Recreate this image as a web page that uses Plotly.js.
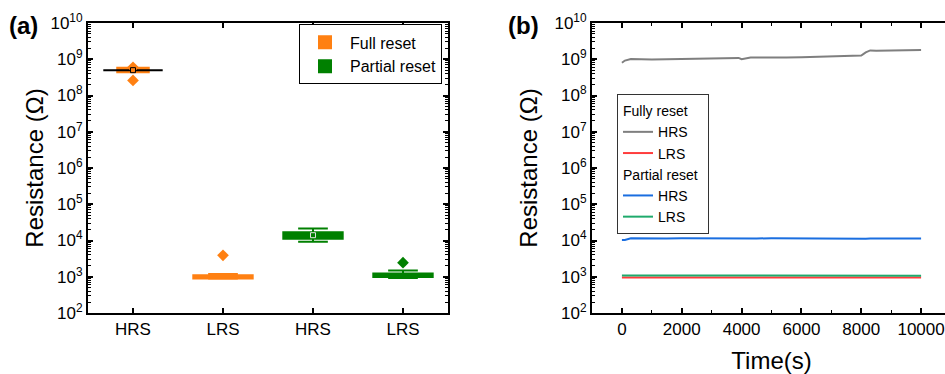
<!DOCTYPE html>
<html>
<head>
<meta charset="utf-8">
<script src="https://cdn.plot.ly/plotly-3.0.1.min.js"></script>
<style>
html,body{margin:0;padding:0;overflow:hidden;background:#fff;}
#chart{width:960px;height:374px;}
</style>
</head>
<body>
<div id="chart"></div>
<script>
// ---------- Panel (a) data: box statistics ----------
const categories = ["HRS", "LRS", "HRS", "LRS"];
const catPos = [0, 1, 2, 3];

// Full reset (positions 0,1)
const fullQ1 = [4.4e8, 0.9e3];
const fullMedian = [5.0e8, 1.0e3];
const fullQ3 = [5.8e8, 1.1e3];
const fullLower = [4.4e8, 0.88e3];
const fullUpper = [5.8e8, 1.2e3];
const fullOutX = [0, 0, 1];
const fullOutY = [2.6e8, 6.0e8, 3.9e3];
const fullHrsMean = [5.0e8];

// Partial reset (positions 2,3)
const partQ1 = [1.12e4, 0.98e3];
const partMedian = [1.32e4, 1.1e3];
const partQ3 = [1.7e4, 1.22e3];
const partLower = [9.3e3, 0.92e3];
const partUpper = [2.16e4, 1.48e3];
const partOutX = [3];
const partOutY = [2.45e3];
const partHrsMean = [1.4e4];

// ---------- Panel (b) data: retention ----------
const timeS = [0, 100, 300, 500, 1000, 1500, 2000, 2500, 3000, 3500, 3900, 4000, 4100, 4300, 4500, 5000, 5500, 6000, 6500, 7000, 7500, 7900, 8000, 8150, 8300, 8500, 9000, 9500, 10000];
const fullHRS = [8.0e8, 9.2e8, 1.02e9, 1.0e9, 0.99e9, 1.0e9, 1.02e9, 1.04e9, 1.05e9, 1.07e9, 1.09e9, 1.0e9, 1.05e9, 1.12e9, 1.12e9, 1.1e9, 1.12e9, 1.13e9, 1.15e9, 1.16e9, 1.2e9, 1.22e9, 1.26e9, 1.55e9, 1.75e9, 1.72e9, 1.72e9, 1.76e9, 1.8e9];
const fullLRS = [9.5e2, 9.5e2, 9.5e2, 9.5e2, 9.5e2, 9.5e2, 9.5e2, 9.5e2, 9.5e2, 9.5e2, 9.5e2, 9.5e2, 9.5e2, 9.5e2, 9.5e2, 9.5e2, 9.5e2, 9.5e2, 9.5e2, 9.5e2, 9.5e2, 9.5e2, 9.5e2, 9.5e2, 9.5e2, 9.5e2, 9.5e2, 9.5e2, 9.5e2];
const partHRS = [1.03e4, 1.03e4, 1.15e4, 1.14e4, 1.15e4, 1.14e4, 1.15e4, 1.14e4, 1.15e4, 1.14e4, 1.15e4, 1.15e4, 1.14e4, 1.15e4, 1.14e4, 1.15e4, 1.14e4, 1.14e4, 1.15e4, 1.14e4, 1.13e4, 1.14e4, 1.14e4, 1.12e4, 1.14e4, 1.14e4, 1.15e4, 1.14e4, 1.14e4];
const partLRS = [1.08e3, 1.08e3, 1.08e3, 1.08e3, 1.08e3, 1.08e3, 1.08e3, 1.08e3, 1.08e3, 1.08e3, 1.08e3, 1.08e3, 1.08e3, 1.08e3, 1.08e3, 1.08e3, 1.08e3, 1.08e3, 1.08e3, 1.08e3, 1.08e3, 1.08e3, 1.08e3, 1.08e3, 1.08e3, 1.08e3, 1.08e3, 1.07e3, 1.07e3];

// ---------- y-axis tick labels ----------
const yTickVals = [1e2, 1e3, 1e4, 1e5, 1e6, 1e7, 1e8, 1e9, 1e10];
const yTickText = ["10<sup>2</sup>", "10<sup>3</sup>", "10<sup>4</sup>", "10<sup>5</sup>", "10<sup>6</sup>",
                   "10<sup>7</sup>", "10<sup>8</sup>", "10<sup>9</sup>", "10<sup>10</sup>"];

// ---------- styling ----------
const FONT = "Arial, 'Liberation Sans', sans-serif";
const ORANGE = "#ff8012";
const GREEN = "#008000";

// minor tick positions on the log axis (2..9 x 10^k)
const minorTicks = [];
for (let k = 2; k < 10; k++) for (let m = 2; m <= 9; m++) minorTicks.push(m * Math.pow(10, k));

const traces = [
  {type:"box", x:[catPos[0]], q1:[fullQ1[0]], median:[fullMedian[0]], q3:[fullQ3[0]],
   lowerfence:[fullLower[0]], upperfence:[fullUpper[0]], width:0.35,
   fillcolor:ORANGE, line:{color:ORANGE, width:2}, showlegend:false, hoverinfo:"skip",
   xaxis:"x", yaxis:"y"},
  {type:"box", x:[catPos[0]], q1:[fullMedian[0]], median:[fullMedian[0]], q3:[fullMedian[0]],
   lowerfence:[fullMedian[0]], upperfence:[fullMedian[0]], width:0.66,
   fillcolor:"#000", line:{color:"#000", width:2}, showlegend:false, hoverinfo:"skip",
   xaxis:"x", yaxis:"y"},
  {type:"box", name:"Full reset", x:[catPos[1]], q1:[fullQ1[1]], median:[fullMedian[1]], q3:[fullQ3[1]],
   lowerfence:[fullLower[1]], upperfence:[fullUpper[1]], width:0.66, whiskerwidth:0.5,
   fillcolor:ORANGE, line:{color:ORANGE, width:2}, legend:"legend",
   xaxis:"x", yaxis:"y"},
  {type:"box", name:"Partial reset", x:[catPos[2], catPos[3]], q1:partQ1, median:partMedian, q3:partQ3,
   lowerfence:partLower, upperfence:partUpper, width:0.66, whiskerwidth:0.5,
   fillcolor:GREEN, line:{color:GREEN, width:2}, legend:"legend",
   xaxis:"x", yaxis:"y"},
  {type:"scatter", mode:"markers", x:fullOutX, y:fullOutY, showlegend:false,
   marker:{symbol:"diamond", size:9, color:ORANGE}, xaxis:"x", yaxis:"y"},
  {type:"scatter", mode:"markers", x:partOutX, y:partOutY, showlegend:false,
   marker:{symbol:"diamond", size:9, color:GREEN}, xaxis:"x", yaxis:"y"},
  {type:"scatter", mode:"markers", x:[catPos[0]], y:fullHrsMean, showlegend:false,
   marker:{symbol:"square-open", size:5, color:"#000", line:{width:1}}, xaxis:"x", yaxis:"y"},
  {type:"scatter", mode:"markers", x:[catPos[2]], y:partHrsMean, showlegend:false,
   marker:{symbol:"square-open", size:5, color:"#e0e0e0", line:{width:1}}, xaxis:"x", yaxis:"y"},

  {type:"scatter", mode:"lines", name:"HRS", x:timeS, y:fullHRS, line:{color:"#7f7f7f", width:2},
   legend:"legend2", legendgroup:"full", legendgrouptitle:{text:"Fully reset", font:{size:14, family:FONT}},
   xaxis:"x2", yaxis:"y2"},
  {type:"scatter", mode:"lines", name:"LRS", x:timeS, y:fullLRS, line:{color:"#ff3c3c", width:2},
   legend:"legend2", legendgroup:"full", xaxis:"x2", yaxis:"y2"},
  {type:"scatter", mode:"lines", name:"HRS", x:timeS, y:partHRS, line:{color:"#1a6ee0", width:2},
   legend:"legend2", legendgroup:"part", legendgrouptitle:{text:"Partial reset", font:{size:14, family:FONT}},
   xaxis:"x2", yaxis:"y2"},
  {type:"scatter", mode:"lines", name:"LRS", x:timeS, y:partLRS, line:{color:"#1faa6c", width:2},
   legend:"legend2", legendgroup:"part", xaxis:"x2", yaxis:"y2"}
];

function yAxis(anchor, standoff) {
  return {
    type:"log", range:[2, 10], tickmode:"array", tickvals:yTickVals, ticktext:yTickText,
    showline:true, linecolor:"#000", linewidth:2, mirror:"ticks",
    ticks:"inside", ticklen:5, tickwidth:2, tickcolor:"#000",
    minor:{tickmode:"array", tickvals:minorTicks, ticks:"inside", ticklen:3, tickwidth:1, tickcolor:"#000", showgrid:false},
    showgrid:false, zeroline:false,
    tickfont:{size:17, family:FONT, color:"#000"},
    title:{text:"Resistance (Ω)", font:{size:24, family:FONT, color:"#000"}, standoff:standoff},
    automargin:false, anchor:anchor
  };
}

const layout = {
  width:960, height:374,
  margin:{l:88, r:9, t:23, b:61},
  paper_bgcolor:"#fff", plot_bgcolor:"#fff",
  font:{family:FONT, color:"#000"},
  boxmode:"overlay",
  xaxis:{domain:[0, 0.41715], range:[-0.5, 3.5], tickvals:catPos, ticktext:categories,
    showline:true, linecolor:"#000", linewidth:2, mirror:"ticks",
    ticks:"inside", ticklen:5, tickwidth:2, tickcolor:"#000",
    showgrid:false, zeroline:false, tickfont:{size:17, family:FONT}, anchor:"y", automargin:false},
  yaxis:yAxis("x", 0),
  xaxis2:{domain:[0.58401, 1], range:[-1000, 11000], dtick:2000, tickformat:"d",
    showline:true, linecolor:"#000", linewidth:2, mirror:"ticks",
    ticks:"inside", ticklen:5, tickwidth:2, tickcolor:"#000",
    minor:{ticks:"inside", ticklen:3, tickwidth:1, tickcolor:"#000", dtick:1000, showgrid:false},
    showgrid:false, zeroline:false, tickfont:{size:17, family:FONT},
    title:{text:"Time(s)", font:{size:24, family:FONT}, standoff:14},
    anchor:"y2", automargin:false},
  yaxis2:yAxis("x2", 10),
  legend:{x:0.4102, xanchor:"right", y:0.995, yanchor:"top",
    bordercolor:"#000", borderwidth:1, bgcolor:"#fff",
    font:{size:16, family:FONT}, itemwidth:40, tracegroupgap:0},
  legend2:{x:0.613, xanchor:"left", y:0.755, yanchor:"top",
    bordercolor:"#333", borderwidth:1, bgcolor:"#fff",
    font:{size:14, family:FONT}, itemwidth:30, tracegroupgap:0, traceorder:"grouped"},
  annotations:[
    {text:"<b>(a)</b>", xref:"paper", yref:"paper", x:-0.0742, y:0.993, xanchor:"center", yanchor:"middle",
     showarrow:false, font:{size:24, family:FONT}},
    {text:"<b>(b)</b>", xref:"paper", yref:"paper", x:0.5052, y:0.993, xanchor:"center", yanchor:"middle",
     showarrow:false, font:{size:24, family:FONT}}
  ]
};

Plotly.newPlot("chart", traces, layout, {displayModeBar:false, staticPlot:true});
</script>
</body>
</html>
